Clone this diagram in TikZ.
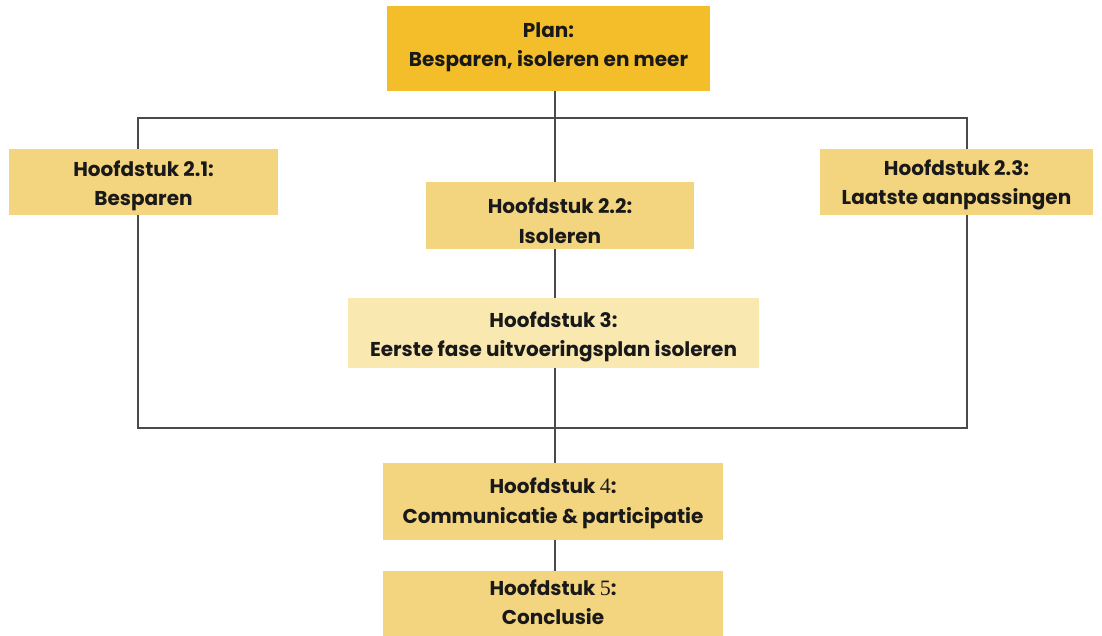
\documentclass[tikz,border=0pt]{standalone}
\usepackage{fontspec}
\setmainfont{Poppins}
\newfontfamily\digitfont{Liberation Serif}
\definecolor{plancol}{HTML}{F4BE2B}
\definecolor{boxcol}{HTML}{F3D47F}
\definecolor{lightcol}{HTML}{FAE8B1}
\definecolor{linecol}{HTML}{4A4A4A}
\begin{document}
\begin{tikzpicture}[x=1pt,y=-1pt,
  box/.style={fill=boxcol,draw=none,inner sep=0pt},
  lbl/.style={align=center,inner sep=0pt,font=\fontsize{20}{29.5}\selectfont\bfseries,text=black!90},
  conn/.style={draw=linecol,line width=1.2pt}]
\useasboundingbox (0,0) rectangle (1102,636);
\fill[white] (0,0) rectangle (1102,636);
% frame
\coordinate (fl) at (138,118);
\coordinate (fr) at (967,428);
\draw[conn] (fl) rectangle (fr);
% boxes
\node[box,fill=plancol,minimum width=323pt,minimum height=85pt] (plan) at (548.5,48.5) {};
\node[box,minimum width=269pt,minimum height=66pt] (h21) at (143.5,182) {};
\node[box,minimum width=268pt,minimum height=67pt] (h22) at (560,215.5) {};
\node[box,minimum width=273pt,minimum height=66pt] (h23) at (956.5,182) {};
\node[box,fill=lightcol,minimum width=411pt,minimum height=70pt] (h3) at (553.5,333) {};
\node[box,minimum width=340pt,minimum height=77pt] (h4) at (553,501.5) {};
\node[box,minimum width=340pt,minimum height=70pt] (h5) at (553,606) {};
% labels
\node[lbl] (tplan) at ([yshift=1pt]plan.center) {Plan:\\Besparen, isoleren en meer};
\node[lbl] (t21) at ([yshift=-4pt]h21.center) {Hoofdstuk 2.1:\\Besparen};
\node[lbl] (t22) at ([yshift=-5pt]h22.center) {Hoofdstuk 2.2:\\Isoleren};
\node[lbl] (t23) at ([yshift=-3pt]h23.center) {Hoofdstuk 2.3:\\Laatste aanpassingen};
\node[lbl] (t3) at ([yshift=-4pt]h3.center) {Hoofdstuk 3:\\Eerste fase uitvoeringsplan isoleren};
\node[lbl] (t4) at ([yshift=-2pt]h4.center) {Hoofdstuk {\digitfont\mdseries\fontsize{22}{29.5}\selectfont 4}:\\Communicatie \& participatie};
\node[lbl] (t5) at ([yshift=4pt]h5.center) {Hoofdstuk {\digitfont\mdseries\fontsize{22}{29.5}\selectfont 5}:\\Conclusie};
% connectors
\draw[conn] (plan.south -| 555,0) -- (h22.north -| 555,0);
\draw[conn] (h22.south -| 555,0) -- (h3.north -| 555,0);
\draw[conn] (h3.south -| 555,0) -- (h4.north -| 555,0);
\draw[conn] (h4.south -| 555,0) -- (h5.north -| 555,0);
\end{tikzpicture}
\end{document}
